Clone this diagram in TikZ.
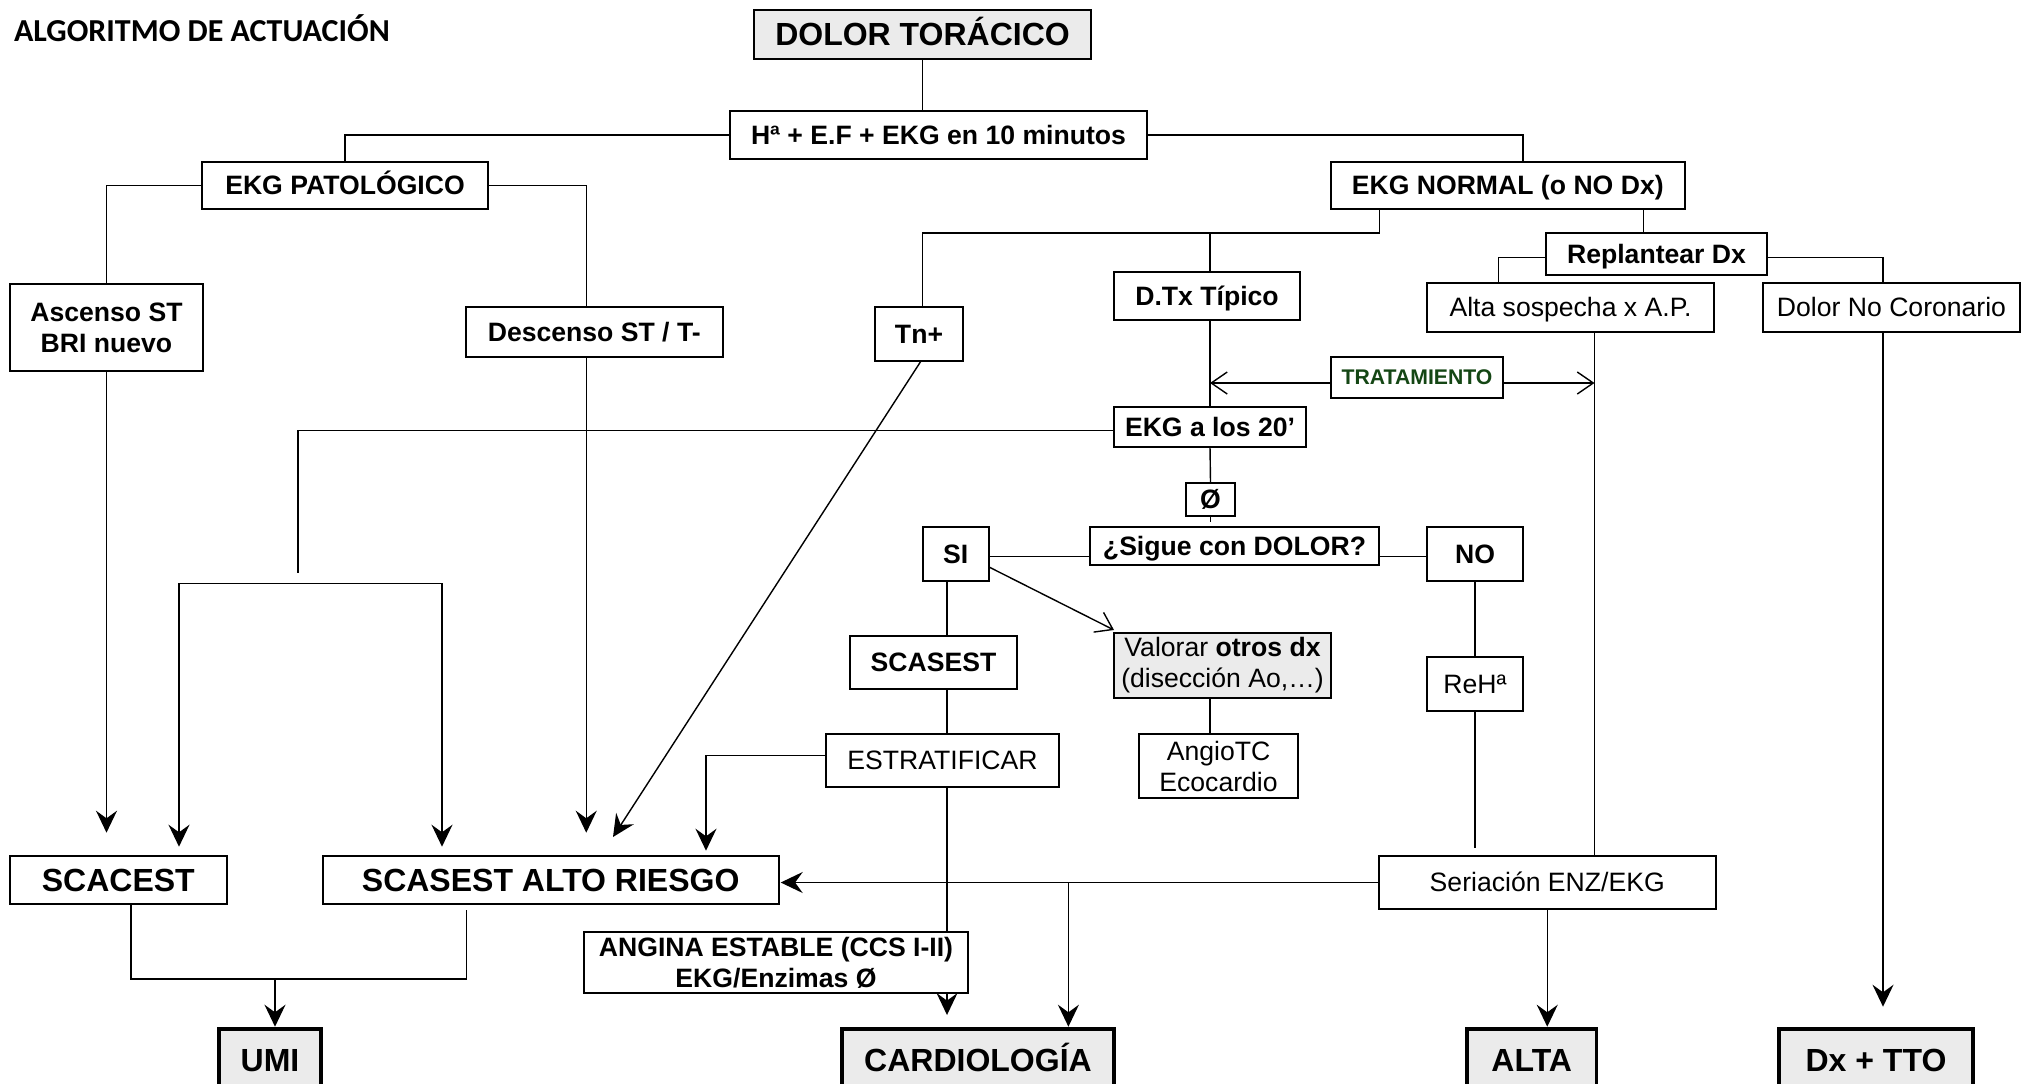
\documentclass[tikz,border=0pt]{standalone}
\usepackage{fontspec}
\setmainfont{Liberation Sans}
\newfontfamily\titlefont{Carlito}
\usetikzlibrary{arrows.meta,calc}
\definecolor{boxgray}{HTML}{EBEBEB}
\definecolor{tratgreen}{RGB}{20,70,20}
\newcommand\placebox[7]{\node[#2, minimum width={(#5-#3)*0.5pt}, minimum height={(#6-#4)*0.5pt}] (#1) at ({(#3+#5)/2},{(#4+#6)/2}) {#7};}
\begin{document}
\begin{tikzpicture}[x=0.5pt,y=-0.5pt,
  stdbox/.style={draw, line width=1pt, inner sep=0pt, outer sep=0pt, align=center, fill=white,
    text height=12.04pt, text depth=2.82pt,
    font=\fontsize{13.3}{15.5}\selectfont\bfseries},
  regbox/.style={stdbox, font=\fontsize{13.3}{15.5}\selectfont},
  multi/.style={text height=, text depth=},
  bigbox/.style={stdbox, text height=14.48pt, text depth=3.39pt, font=\fontsize{16}{19}\selectfont\bfseries},
  grayb/.style={bigbox, fill=boxgray},
  endbox/.style={bigbox, fill=boxgray, line width=1.8pt},
  tratbox/.style={stdbox, text height=9.59pt, text depth=2.25pt, text=tratgreen, font=\fontsize{10.6}{12}\selectfont\bfseries},
  conn/.style={line width=0.7pt},
  farrow/.style={conn, -{Stealth[length=11pt,width=10.5pt,inset=3.8pt]}},
  oarrow/.style={conn, -{Straight Barb[length=8pt,width=11pt]}}]
\useasboundingbox (0,0) rectangle (2022,1083);

\node[anchor=base west, font=\titlefont\fontsize{16}{19}\selectfont\bfseries] (title) at (7,41) {ALGORITMO DE ACTUACIÓN};

\placebox{dolor}{grayb}{754}{10}{1091}{59}{DOLOR TORÁCICO}
\placebox{hef}{stdbox}{730}{111}{1147}{159}{Hª + E.F + EKG en 10 minutos}
\placebox{pat}{stdbox}{202}{162}{488}{209}{EKG PATOLÓGICO}
\placebox{normal}{stdbox}{1331}{162}{1684.5}{209}{EKG NORMAL (o NO Dx)}
\placebox{asc}{stdbox,multi}{10}{284}{203}{371}{Ascenso ST\\BRI nuevo}
\placebox{desc}{stdbox}{466}{307}{722.5}{357}{Descenso ST / T-}
\placebox{tn}{stdbox}{875}{307}{963}{361}{Tn+}
\placebox{dtx}{stdbox}{1114}{272}{1300}{320}{D.Tx Típico}
\placebox{repl}{stdbox}{1546}{233}{1767}{275}{Replantear Dx}
\placebox{as}{regbox}{1427}{283}{1714}{332}{Alta sospecha x A.P.}
\placebox{dnc}{regbox}{1763}{283}{2020}{332}{Dolor No Coronario}
\placebox{trat}{tratbox}{1331}{357}{1503}{398}{TRATAMIENTO}
\placebox{ekg20}{stdbox}{1114}{407}{1306}{447}{EKG a los 20’}
\placebox{phi}{stdbox}{1186}{483}{1235}{516}{Ø}
\placebox{sigue}{stdbox}{1090}{527}{1379}{565}{¿Sigue con DOLOR?}
\placebox{si}{stdbox}{922.5}{527}{989}{581}{SI}
\placebox{no}{stdbox}{1427}{527}{1523}{581}{NO}
\placebox{scasest}{stdbox}{850}{636}{1017}{689}{SCASEST}
\placebox{valorar}{regbox,multi,fill=boxgray}{1114}{633}{1331}{698}{Valorar \textbf{otros dx}\\(disección Ao,…)}
\placebox{reh}{regbox}{1427}{657}{1523}{711}{ReHª}
\placebox{estrat}{regbox}{826}{734}{1059}{787}{ESTRATIFICAR}
\placebox{angio}{regbox,multi}{1139}{734}{1298}{798}{AngioTC\\Ecocardio}
\placebox{scacest}{bigbox}{10}{856}{226.6}{904}{SCACEST}
\placebox{sar}{bigbox}{322.7}{856}{778.7}{904}{SCASEST ALTO RIESGO}
\placebox{seri}{regbox}{1378.7}{856}{1715.8}{909}{Seriación ENZ/EKG}
\placebox{umi}{endbox}{219}{1029}{321}{1091}{UMI}
\placebox{cardio}{endbox}{842}{1029}{1114}{1091}{CARDIOLOGÍA}
\placebox{alta}{endbox}{1467}{1029}{1596.5}{1091}{ALTA}
\placebox{dxtto}{endbox}{1779}{1029}{1973}{1091}{Dx + TTO}

% top tree
\draw[conn] (dolor.south) -- (dolor.south |- hef.north);
\draw[conn] (hef.west) -| (pat.north);
\draw[conn] (hef.east) -| ([xshift=7.6pt]normal.north);
\draw[conn] (pat.west) -| (asc.north);
\draw[conn] (pat.east) -| ([xshift=-4pt]desc.north);

% EKG normal branches
\coordinate (jN) at ($(normal.south)+(-128.35,24)$);
\draw[conn] (normal.south -| jN) -- (jN) -| ([xshift=1.75pt]tn.north);
\draw[conn] (jN -| ekg20.north) -- (ekg20.north |- dtx.north);
\draw[conn] (ekg20.north |- dtx.south) -- (ekg20.north);
\draw[conn] (ekg20.south) -- (phi.north);
\coordinate (phiend) at ($(phi.south)+(0,6)$);
\draw[conn] (phi.south) -- (phiend);
\draw[conn] ([xshift=67.8pt]normal.south) -- ([xshift=67.8pt]normal.south |- repl.north);
\draw[conn] ([yshift=-1.75pt]repl.west) -| ([xshift=-35.9pt]as.north);
\draw[conn] ([yshift=-1.75pt]repl.east) -| ([xshift=-4.25pt]dnc.north);

% tratamiento
\coordinate (asB) at ([xshift=12pt]as.south);
\draw[conn] (asB) -- (asB |- seri.north);
\draw[oarrow] ([yshift=-2.75pt]trat.west) -- ([yshift=-2.75pt]trat.west -| ekg20.north);
\draw[oarrow] ([yshift=-2.75pt]trat.east) -- ([yshift=-2.75pt]trat.east -| asB);

% dolor no coronario
\coordinate (dncB) at ([xshift=-4.25pt]dnc.south);
\coordinate (dncEnd) at ($(dncB |- dxtto.north)+(0,-22.3)$);
\draw[farrow] (dncB) -- (dncEnd);

% EKG 20' left
\coordinate (e20end) at (298,573.3);
\draw[conn] ([yshift=-1.85pt]ekg20.west) -| (e20end);
\coordinate (brL) at (179,583.3);
\coordinate (brR) at (442,583.3);
\draw[farrow] (brR) -- (brL) -- ($(brL |- scacest.north)+(0,-9.3)$);
\draw[farrow] (brR) -- ($(brR |- sar.north)+(0,-9.3)$);

% left arrows
\draw[farrow] (asc.south) -- ($(asc.south |- scacest.north)+(0,-23.3)$);
\draw[farrow] ([xshift=-4pt]desc.south) -- ($([xshift=-4pt]desc.south |- sar.north)+(0,-23.3)$);
\draw[farrow] ([xshift=1pt]tn.south) -- ($(sar.north)+(62.3,-19)$);

% SI / NO
\coordinate (siY) at ([yshift=-1.35pt]si.east);
\draw[conn] (siY) -- (siY -| sigue.west);
\draw[conn] (sigue.east |- siY) -- (no.west |- siY);
\draw[oarrow] ([yshift=-6.5pt]si.east) -- ([yshift=1.5pt]valorar.north west);
\coordinate (siB) at ([xshift=-4.375pt]si.south);
\draw[conn] (siB) -- (siB |- scasest.north);
\draw[conn] (siB |- scasest.south) -- (siB |- estrat.north);
\draw[farrow] (siB |- estrat.south) -- ($(siB |- cardio.north)+(0,-14)$);
\draw[farrow] ([yshift=2.4pt]estrat.west) -| ($(sar.north east)+(-72.7,-5.3)$);
\draw[conn] (valorar.south -| ekg20.north) -- (angio.north -| ekg20.north);
\draw[conn] (no.south) -- (reh.north);
\coordinate (rehEnd) at ($(reh.south |- seri.north)+(0,-8.3)$);
\draw[conn] (reh.south) -- (rehEnd);

% seriacion
\draw[farrow] (seri.west) -- ([xshift=1pt]seri.west -| sar.east);
\coordinate (cbr) at ([xshift=45.2pt]cardio.north |- seri.west);
\draw[farrow] (cbr) -- ($(cbr |- cardio.north)+(0,-2.3)$);
\draw[farrow] (seri.south) -- ($(seri.south |- alta.north)+(0,-2.3)$);

% to UMI
\coordinate (sacL) at ([xshift=6.35pt]scacest.south);
\coordinate (sarB) at ($(sar.south west)+(143.8,6)$);
\coordinate (umiJ) at ($(umi.north)+(5,-50)$);
\draw[conn] (sacL) |- (umiJ) -| (sarB);
\draw[farrow] (umiJ) -- ($(umiJ |- umi.north)+(0,-2.3)$);

% angina box on top of line
\placebox{angina}{stdbox,multi}{584}{931.7}{968}{993}{ANGINA ESTABLE (CCS I-II)\\EKG/Enzimas Ø}
\end{tikzpicture}
\end{document}
